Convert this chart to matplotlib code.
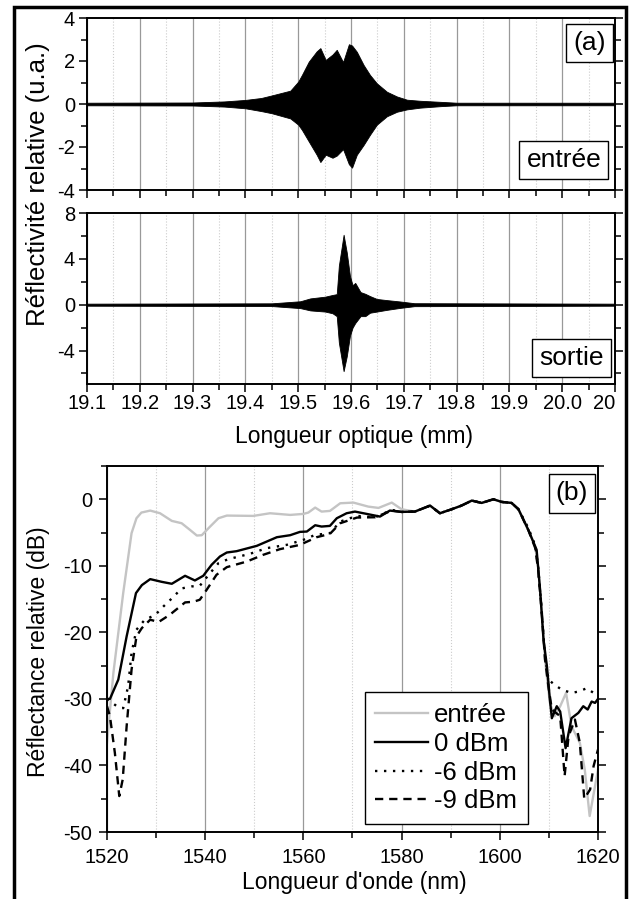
"""
Figure : réflectivité (a) et réflectance (b) d'un réseau, entrée / sortie
"""
import matplotlib
matplotlib.use('Agg')
import matplotlib.pyplot as plt
import matplotlib.patches as patches
from matplotlib.ticker import MultipleLocator
import numpy as np

plt.rcParams['font.family'] = ['Liberation Sans', 'DejaVu Sans']
plt.rcParams['axes.unicode_minus'] = False

# ---- données (a) : enveloppes ----
z_in = [19.10, 19.30, 19.36, 19.40, 19.43, 19.45, 19.485, 19.50, 19.507, 19.52,
        19.535, 19.542, 19.552, 19.565, 19.573, 19.585, 19.596, 19.602, 19.611,
        19.624, 19.636, 19.649, 19.668, 19.687, 19.706, 19.731, 19.77, 19.80, 20.10]
up_in = [0.06, 0.07, 0.12, 0.19, 0.28, 0.40, 0.62, 1.04, 1.35, 1.97,
         2.45, 2.60, 2.05, 2.30, 2.52, 1.95, 2.78, 2.72, 2.43,
         1.81, 1.35, 0.96, 0.57, 0.35, 0.20, 0.15, 0.10, 0.06, 0.06]
lo_in = [-0.06, -0.07, -0.12, -0.20, -0.33, -0.43, -0.67, -0.96, -1.20, -1.74,
         -2.36, -2.70, -2.36, -2.50, -2.40, -2.10, -2.80, -2.96, -2.36,
         -1.90, -1.43, -0.96, -0.57, -0.36, -0.25, -0.17, -0.10, -0.06, -0.06]

z_out = [19.10, 19.45, 19.504, 19.523, 19.551, 19.565, 19.573, 19.577, 19.586,
         19.592, 19.598, 19.603, 19.608, 19.618, 19.627, 19.636, 19.649, 19.668,
         19.693, 19.72, 20.10]
up_out = [0.09, 0.12, 0.30, 0.55, 0.70, 0.85, 0.92, 3.40, 6.10, 4.55, 2.50, 1.70,
          1.90, 1.10, 0.95, 0.75, 0.50, 0.40, 0.28, 0.13, 0.09]
lo_out = [-0.09, -0.12, -0.30, -0.50, -0.60, -0.75, -1.00, -3.30, -5.80, -4.50,
          -2.70, -2.00, -1.60, -1.00, -1.00, -0.70, -0.60, -0.45, -0.28, -0.13, -0.09]

# ---- données (b) : réflectance en dB ----
wl_in = [1520.0, 1521.3, 1523.3, 1525.0, 1526.0, 1527.0, 1528.8, 1530.8, 1533.2,
         1535.2, 1536.9, 1538.3, 1539.3, 1541.0, 1542.7, 1544.4, 1549.8, 1553.2,
         1557.3, 1560.0, 1561.0, 1562.4, 1563.7, 1565.4, 1567.5, 1570.2, 1573.2,
         1575.3, 1578.0, 1580.0, 1582.7, 1585.8, 1587.8, 1590.2, 1592.2, 1594.3,
         1596.3, 1598.7, 1600.4, 1602.4, 1603.8, 1605.8, 1607.2, 1607.8, 1608.5,
         1609.2, 1610.2, 1611.2, 1612.3, 1613.5, 1614.6, 1616.3, 1617.3, 1618.3,
         1619.4, 1620.0]
db_in = [-36.6, -26.1, -14.1, -5.1, -2.85, -2.0, -1.7, -2.1, -3.25,
         -3.6, -4.6, -5.45, -5.4, -4.1, -2.85, -2.45, -2.5, -2.1,
         -2.35, -2.2, -2.0, -1.25, -1.85, -1.75, -0.6, -0.5, -1.1,
         -1.3, -0.5, -1.5, -1.85, -0.95, -2.1, -1.5, -0.95, -0.2,
         -0.55, 0.0, -0.4, -0.55, -1.5, -4.6, -7.1, -10.1, -16.1,
         -24.1, -30.6, -32.6, -31.1, -29.1, -34.1, -36.6, -40.6, -47.6,
         -43.1, -40.6]

wl_0 = [1520.0, 1520.6, 1522.3, 1524.0, 1525.9, 1527.1, 1528.8, 1531.1, 1533.2,
        1535.9, 1537.9, 1539.6, 1541.3, 1543.0, 1544.4, 1546.4, 1550.5, 1554.6,
        1557.3, 1559.3, 1560.7, 1562.4, 1563.7, 1565.4, 1566.8, 1568.8, 1570.5,
        1572.9, 1575.6, 1577.6, 1580.0, 1582.7, 1585.8, 1587.8, 1590.2, 1592.2,
        1594.3, 1596.3, 1598.7, 1600.4, 1602.4, 1603.8, 1605.8, 1607.5, 1608.2,
        1608.9, 1609.6, 1610.2, 1610.6, 1611.6, 1612.3, 1613.4, 1614.6, 1616.0,
        1617.0, 1617.9, 1618.7, 1619.4, 1620.0]
db_0 = [-30.0, -30.0, -27.1, -20.6, -14.1, -12.9, -12.0, -12.4, -12.7,
        -11.5, -12.2, -11.5, -9.85, -8.6, -8.0, -7.8, -7.0, -5.7,
        -5.4, -4.9, -4.85, -3.9, -4.1, -4.0, -2.85, -2.1, -1.85,
        -2.2, -2.6, -1.7, -1.9, -1.85, -0.95, -2.1, -1.5, -0.95,
        -0.2, -0.55, 0.0, -0.4, -0.55, -1.5, -4.6, -7.6, -13.6,
        -21.1, -25.1, -30.1, -32.9, -31.1, -31.9, -37.4, -32.9, -32.1,
        -31.1, -31.6, -30.4, -30.6, -30.0]

wl_6 = [1520.0, 1522.0, 1523.3, 1524.3, 1525.0, 1526.0, 1527.7, 1529.8, 1531.5,
        1533.2, 1535.2, 1537.2, 1538.9, 1541.0, 1542.7, 1544.7, 1549.1, 1552.5,
        1556.6, 1560.0, 1562.4, 1565.4, 1567.5, 1570.9, 1574.6, 1578.0, 1580.0,
        1582.7, 1585.8, 1587.8, 1590.2, 1592.2, 1594.3, 1596.3, 1598.7, 1600.4,
        1602.4, 1603.8, 1605.8, 1607.2, 1607.8, 1608.5, 1609.2, 1609.9, 1611.2,
        1612.6, 1614.6, 1616.0, 1617.7, 1619.1, 1620.0]
db_6 = [-30.0, -31.1, -31.4, -28.1, -23.1, -19.6, -18.1, -17.4, -16.1,
        -14.9, -13.4, -13.1, -13.0, -11.1, -9.6, -9.0, -8.2, -7.35,
        -6.85, -6.1, -5.35, -5.1, -3.35, -2.5, -2.7, -1.6, -1.9,
        -1.85, -0.95, -2.1, -1.5, -0.95, -0.2, -0.55, 0.0, -0.4,
        -0.55, -1.5, -4.3, -6.9, -10.0, -16.5, -23.5, -27.1, -27.9,
        -28.6, -29.1, -28.9, -28.4, -29.1, -28.9]

wl_9 = [1520.0, 1520.6, 1521.6, 1522.5, 1523.2, 1524.0, 1525.0, 1526.0, 1527.1,
        1528.8, 1530.5, 1532.8, 1535.9, 1537.6, 1538.9, 1540.3, 1542.3, 1544.4,
        1548.5, 1551.8, 1555.2, 1559.3, 1562.7, 1565.4, 1567.5, 1570.9, 1574.6,
        1578.0, 1580.0, 1582.7, 1585.8, 1587.8, 1590.2, 1592.2, 1594.3, 1596.3,
        1598.7, 1600.4, 1602.4, 1603.8, 1605.8, 1607.2, 1607.8, 1608.5, 1609.2,
        1609.9, 1610.6, 1612.3, 1613.2, 1614.0, 1615.3, 1616.3, 1617.2, 1618.4,
        1619.1, 1620.0]
db_9 = [-31.1, -32.6, -38.1, -44.6, -42.1, -34.1, -25.6, -20.6, -19.35,
        -18.1, -18.45, -17.35, -15.5, -15.4, -15.1, -13.6, -11.35, -10.2,
        -9.35, -8.35, -7.5, -6.85, -5.7, -5.2, -3.6, -2.75, -2.7,
        -1.7, -1.9, -1.85, -0.95, -2.1, -1.5, -0.95, -0.2, -0.55,
        0.0, -0.4, -0.55, -1.5, -4.6, -7.3, -10.5, -16.5, -24.0,
        -28.1, -31.6, -32.6, -41.6, -35.6, -33.1, -36.6, -45.0, -43.6,
        -40.1, -37.6]

a_ticks = [19.1, 19.2, 19.3, 19.4, 19.5, 19.6, 19.7, 19.8, 19.9, 20.0, 20.1]
a_labels = ['19.1', '19.2', '19.3', '19.4', '19.5', '19.6', '19.7', '19.8',
            '19.9', '20.0', '20']

W, H = 635, 899
fig = plt.figure(figsize=(W / 100, H / 100), dpi=100)


def rect(l, t, r, b):
    """pixels -> coordonnées figure"""
    return [l / W, 1 - b / H, (r - l) / W, (b - t) / H]


ax1 = fig.add_axes(rect(87, 18, 615, 190))
ax2 = fig.add_axes(rect(87, 213, 615, 384))
ax3 = fig.add_axes(rect(107, 466, 598, 832))

TICK = 14.5
LAB = 16.5
BOX = 19


def style(ax):
    for s in ax.spines.values():
        s.set_linewidth(1.4)
    ax.tick_params(which='both', direction='out', width=1.1, labelsize=TICK,
                   right=True, top=False)
    ax.tick_params(which='major', length=5.5)
    ax.tick_params(which='minor', length=4.5)
    ax.grid(True, which='major', axis='x', color='#999999', lw=0.9, ls='-')
    ax.grid(True, which='minor', axis='x', color='#cccccc', lw=0.8, ls=':')
    ax.set_axisbelow(True)


box = dict(boxstyle='square,pad=0.27', fc='white', ec='black', lw=1.0)

# (a) entrée
ax1.fill_between(z_in, lo_in, up_in, color='black', lw=0.6)
ax1.set_xlim(19.1, 20.1)
ax1.set_ylim(-4, 4)
ax1.xaxis.set_major_locator(MultipleLocator(0.1))
ax1.xaxis.set_minor_locator(MultipleLocator(0.05))
ax1.yaxis.set_major_locator(MultipleLocator(2))
ax1.yaxis.set_minor_locator(MultipleLocator(1))
style(ax1)
ax1.tick_params(labelbottom=False)
ax1.text(0.951, 0.855, '(a)', transform=ax1.transAxes, fontsize=BOX,
         ha='center', va='center', bbox=box)
ax1.text(0.903, 0.174, 'entrée', transform=ax1.transAxes, fontsize=BOX,
         ha='center', va='center', bbox=box)

# (a) sortie
ax2.fill_between(z_out, lo_out, up_out, color='black', lw=0.6)
ax2.set_xlim(19.1, 20.1)
ax2.set_ylim(-6.92, 8)
ax2.set_xticks(a_ticks)
ax2.set_xticklabels(a_labels)
ax2.xaxis.set_minor_locator(MultipleLocator(0.05))
ax2.yaxis.set_major_locator(MultipleLocator(4))
ax2.yaxis.set_minor_locator(MultipleLocator(2))
style(ax2)
ax2.tick_params(axis='x', pad=2)
ax2.tick_params(axis='y', pad=3)
ax1.tick_params(axis='y', pad=3)
ax2.get_xticklabels()[-1].set_horizontalalignment('right')
ax2.text(0.917, 0.152, 'sortie', transform=ax2.transAxes, fontsize=BOX,
         ha='center', va='center', bbox=box)

fig.text(354 / W, 1 - 437 / H, 'Longueur optique (mm)', fontsize=LAB,
         ha='center', va='center')
fig.text(38 / W, 1 - 184 / H, 'Réflectivité relative (u.a.)', fontsize=18.5,
         ha='center', va='center', rotation=90)

# (b)
ax3.plot(wl_in, db_in, color='#c4c4c4', lw=1.7, label='entrée')
ax3.plot(wl_0, db_0, color='black', lw=1.7, label='0 dBm')
ax3.plot(wl_6, db_6, color='black', lw=1.7, ls=(0, (1, 2.8)), label='-6 dBm')
ax3.plot(wl_9, db_9, color='black', lw=1.7, ls=(0, (3.5, 2.5)), label='-9 dBm')
ax3.set_xlim(1520, 1620)
ax3.set_ylim(-50, 5)
ax3.xaxis.set_major_locator(MultipleLocator(20))
ax3.xaxis.set_minor_locator(MultipleLocator(10))
ax3.yaxis.set_major_locator(MultipleLocator(10))
ax3.yaxis.set_minor_locator(MultipleLocator(5))
style(ax3)
ax3.tick_params(axis='x', pad=6)
ax3.tick_params(axis='y', pad=5)
ax3.text(0.947, 0.925, '(b)', transform=ax3.transAxes, fontsize=BOX,
         ha='center', va='center', bbox=box)
leg = ax3.legend(loc='lower right', bbox_to_anchor=(0.857, 0.022),
                 fontsize=18.5, frameon=True, fancybox=False, framealpha=1,
                 edgecolor='black', handlelength=2.05, handletextpad=0.23,
                 labelspacing=0.18, borderpad=0.42, borderaxespad=0)
leg.get_frame().set_linewidth(1.0)

fig.text(354 / W, 1 - 882 / H, "Longueur d'onde (nm)", fontsize=LAB,
         ha='center', va='center')
fig.text(39 / W, 1 - 652 / H, 'Réflectance relative (dB)', fontsize=LAB,
         ha='center', va='center', rotation=90)

# cadre noir autour de la figure
frame = patches.Rectangle((13.5 / W, -0.02), (626 - 13.5) / W, 1 - 6.5 / H + 0.02,
                          transform=fig.transFigure, fill=False, ec='black',
                          lw=2.5, clip_on=False)
fig.patches.append(frame)

fig.savefig('out.png', dpi=100)
